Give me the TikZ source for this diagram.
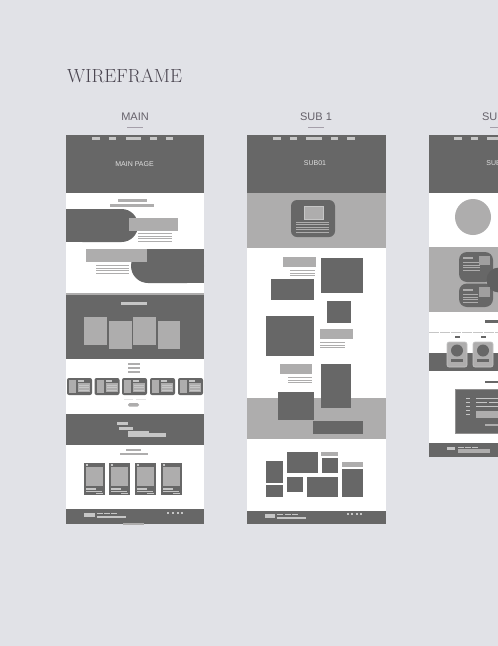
\documentclass[tikz,border=0pt]{standalone}
\usepackage{fontspec}
\newfontfamily\wfsans{Liberation Sans}
\definecolor{bgc}{HTML}{E1E2E7}
\definecolor{dk}{HTML}{676767}
\definecolor{md}{HTML}{AEADAD}
\definecolor{lt}{HTML}{C6C6C6}
\definecolor{ink}{HTML}{4A4550}
\definecolor{rule}{HTML}{A59FAA}
\tikzset{
  heading/.style={font=\wfsans\fontsize{11}{12}\selectfont, text=ink!85, inner sep=0pt},
  pagename/.style={font=\wfsans\fontsize{7}{8}\selectfont, text=white!88!black, inner sep=0pt},
}
% filled box: colour, x1, y1, x2, y2
\newcommand\wfbox[5]{\fill[#1] (#2,#3) rectangle (#4,#5);}
% stack of thin text lines: colour, x1, x2, top, count
\newcommand\wflines[5]{\foreach \k in {1,...,#5}{\fill[#1] (#2,{#4+(\k-1)*2.5}) rectangle (#3,{#4+(\k-1)*2.5+1.3});}}
\begin{document}
\begin{tikzpicture}[x=1pt,y=-1pt]
\useasboundingbox (0,0) rectangle (498,646);
\clip (0,0) rectangle (498,646);
\fill[bgc] (0,0) rectangle (498,646);

\node[anchor=west, inner sep=0pt, text=ink, font=\fontsize{19}{22}\selectfont] (title) at (67,76) {WIREFRAME};

% ---------------- MAIN ----------------
\node[heading] (mainlbl) at (135,116.5) {MAIN};
\wfbox{rule}{127}{127}{143}{128.2}
\wfbox{white}{66}{135}{204}{524}
\wfbox{dk}{66}{135}{204}{193}
\foreach \a/\b in {92/100,109/116,126/141,150/157,166/173}{\wfbox{lt}{\a}{137.3}{\b}{139.5}}
\node[pagename] (mainpage) at (134.5,164) {MAIN PAGE};
\wfbox{md}{118}{199}{147}{201.5}
\wfbox{md}{110}{204}{154}{206.5}
% left pill
\fill[dk,rounded corners=16.5pt] (66,209) rectangle (138,242);
\wfbox{dk}{66}{209}{100}{242}
\wfbox{md}{129}{218}{178}{231}
\wflines{md}{138}{172}{233}{4}
% right pill
\fill[dk,rounded corners=17pt] (131,249) rectangle (204,283);
\wfbox{dk}{170}{249}{204}{283}
\wfbox{md}{86}{249}{147}{262}
\wflines{md}{96}{129}{265}{4}
% gallery band
\wfbox{md}{66}{293}{204}{294.5}
\wfbox{dk}{66}{294.5}{204}{359}
\wfbox{lt}{121}{301.5}{147}{305}
\wfbox{md}{84}{317}{107}{345}
\wfbox{md}{109}{321}{132}{349}
\wfbox{md}{133}{317}{156}{345}
\wfbox{md}{158}{321}{180}{349}
% small cards row
\foreach \yy in {363,367,371}{\wfbox{md}{128}{\yy}{140}{\yy+1.5}}
\foreach \x in {67,94.5,122,150,178}{
  \fill[dk,rounded corners=2pt] (\x,378) rectangle (\x+25,395);
  \wfbox{md}{\x+2}{380}{\x+9}{393}
  \wfbox{lt}{\x+11}{380}{\x+17}{381.5}
  \wfbox{md}{\x+11}{383}{\x+23}{392}
  \wflines{lt}{\x+12}{\x+22}{384.5}{3}
}
\wfbox{white!90!black}{124}{398.5}{133}{399.5}
\wfbox{white!90!black}{136}{398.5}{146}{399.5}
\fill[md,rounded corners=1.5pt] (128,403) rectangle (139,406.5);
% banner band
\wfbox{dk}{66}{414}{204}{445}
\wfbox{lt}{117}{421.5}{128}{425}
\wfbox{lt}{119}{426.5}{133}{429.5}
\wfbox{lt}{128}{431.3}{149}{432.5}
\wfbox{lt}{128}{433}{166}{437}
% post cards
\wfbox{md}{126}{448.5}{141}{450.5}
\wfbox{md}{120}{452.5}{148}{454.5}
\foreach \x in {84,109,135,161}{
  \wfbox{dk}{\x}{463}{\x+21}{495}
  \wfbox{lt}{\x+2}{464.3}{\x+3.5}{465.8}
  \wfbox{md}{\x+2}{467}{\x+19}{486}
  \wfbox{lt}{\x+2}{488}{\x+12}{489.5}
  \wfbox{lt}{\x+2}{490.5}{\x+18}{492}
  \wfbox{lt}{\x+12}{493}{\x+19}{494.2}
}
% footer
\wfbox{dk}{66}{509}{204}{524}
\wfbox{lt}{84}{512.5}{95}{517}
\foreach \a in {97,104,111}{\wfbox{lt}{\a}{512.5}{\a+5.5}{514}}
\wfbox{lt}{97}{516}{126}{517.5}
\foreach \a in {166.5,171.5,176.5,181}{\wfbox{lt}{\a}{511.5}{\a+2}{513.5}}
\wfbox{md}{123}{523}{144}{524.5}

% ---------------- SUB 1 ----------------
\node[heading] (sub1lbl) at (316,116.5) {SUB 1};
\wfbox{rule}{308}{127}{324}{128.2}
\wfbox{white}{247}{135}{386}{524}
\wfbox{dk}{247}{135}{386}{193}
\foreach \a/\b in {273/281,290/297,306/322,331/338,347/355}{\wfbox{lt}{\a}{137.3}{\b}{139.5}}
\node[pagename] (sub01) at (315,163) {SUB01};
\wfbox{md}{247}{193}{386}{248}
\fill[dk,rounded corners=6pt] (291,200) rectangle (335,237);
\fill[md,draw=lt,line width=0.5pt] (304,206) rectangle (323,219);
\wflines{md}{296}{329}{221.5}{5}
% content blocks
\wfbox{md}{283}{257}{316}{267}
\wflines{md}{290}{315}{270}{3}
\wfbox{dk}{271}{279}{314}{300}
\wfbox{dk}{321}{258}{363}{293}
\wfbox{dk}{327}{301}{351}{323}
\wfbox{dk}{266}{316}{314}{356}
\wfbox{md}{320}{329}{353}{339}
\wflines{md}{320}{345}{342}{3}
\wfbox{md}{280}{364}{312}{374}
\wflines{md}{288}{312}{377}{3}
\wfbox{md}{247}{398}{386}{439}
\wfbox{dk}{321}{364}{351}{408}
\wfbox{dk}{278}{392}{314}{420}
\wfbox{dk}{313}{421}{363}{434}
% mosaic
\wfbox{dk}{266}{461}{283}{483}
\wfbox{dk}{266}{484.5}{283}{497}
\wfbox{dk}{287}{452}{318}{473}
\wfbox{md}{321}{452}{338}{456}
\wfbox{dk}{322}{458}{338}{473}
\wfbox{dk}{287}{477}{303}{492}
\wfbox{dk}{307}{477}{338}{497}
\wfbox{md}{342}{462}{363}{467}
\wfbox{dk}{342}{468.5}{363}{497}
% footer
\wfbox{dk}{247}{511}{386}{524}
\wfbox{lt}{265}{514}{275}{518}
\foreach \a in {277,284.5,292}{\wfbox{lt}{\a}{513.5}{\a+6}{515}}
\wfbox{lt}{277}{516.5}{306}{518.5}
\foreach \a in {347,351.3,355.6,360}{\wfbox{lt}{\a}{512.5}{\a+2}{514.5}}

% ---------------- SUB 2 ----------------
\node[heading] (sub2lbl) at (498,116.5) {SUB 2};
\wfbox{rule}{490}{127}{506}{128.2}
\wfbox{white}{429}{135}{510}{457}
\wfbox{dk}{429}{135}{510}{193}
\foreach \a/\b in {454/462,471/478,487/503}{\wfbox{lt}{\a}{137.3}{\b}{139.5}}
\node[pagename] (sub02) at (497.5,163) {SUB02};
\fill[md] (473,217) circle[radius=18];
% profile band
\wfbox{md}{429}{247}{510}{312}
\fill[dk,rounded corners=8pt] (459,252) rectangle (493,282);
\fill[dk,rounded corners=8pt] (459,283.5) rectangle (493,307);
\fill[dk!92!black] (499,280) circle[radius=12.5];
\wfbox{md}{463}{257}{473}{259}
\wflines{md}{463}{480}{262}{4}
\wfbox{md!80!dk}{479}{256}{490}{265}
\wfbox{md!80!dk}{479}{287}{490}{297}
\wfbox{md}{463}{289}{473}{291}
\wflines{md}{463}{478}{294}{4}
% team band
\wfbox{dk}{485}{320}{510}{322.5}
\draw[lt,line width=0.4pt,dash pattern=on 10pt off 1pt] (429,332) -- (498,332);
\wfbox{dk}{454.5}{336}{459.5}{338}
\wfbox{dk}{480.5}{336}{485.5}{338}
\wfbox{dk}{429}{353}{510}{371}
\foreach \x in {447,473}{
  \fill[md,draw=lt,line width=0.6pt,rounded corners=2pt] (\x,342) rectangle (\x+20,367);
  \fill[dk] (\x+10,350.5) circle[radius=6];
  \wfbox{dk}{\x+4}{359}{\x+16}{362}
}
% contact block
\wfbox{dk}{485}{381}{510}{383}
\fill[dk,draw=md!60!dk,line width=0.5pt] (455,389) rectangle (510,433);
\foreach \yy in {397.5,401.5,405.5,409.5,413.5}{\wfbox{lt}{466}{\yy}{469.5}{\yy+1.5}}
\foreach \yy in {397.5,401.5,405.5}{\wfbox{lt}{476}{\yy}{510}{\yy+1.3}}
\wfbox{dk}{487}{401}{489}{403.5}
\wfbox{md}{476}{410.5}{510}{418}
\wfbox{md}{485}{424}{510}{425.5}
% footer
\wfbox{dk}{429}{443}{510}{457}
\wfbox{lt}{447}{446.5}{455}{450}
\foreach \a in {458,465,472}{\wfbox{lt}{\a}{446.5}{\a+6}{447.8}}
\wfbox{md}{458}{449}{490}{453}
\end{tikzpicture}
\end{document}
